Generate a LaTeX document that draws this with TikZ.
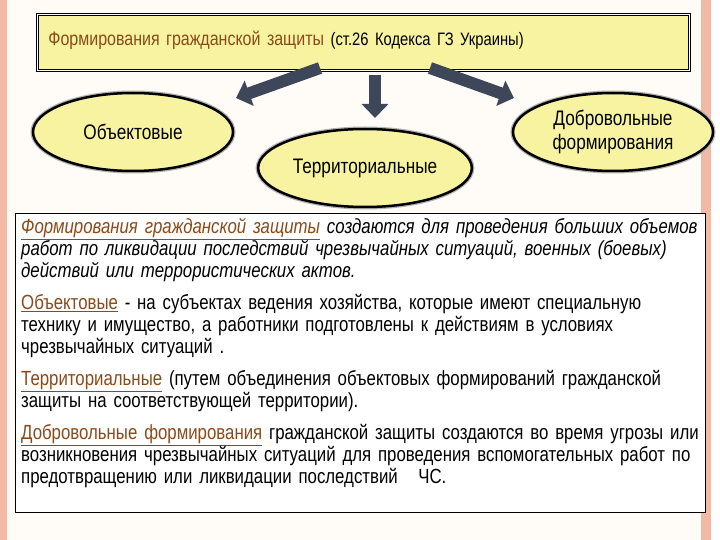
\documentclass[tikz,border=0pt]{standalone}
\usepackage{fontspec}
\setmainfont{Liberation Sans}[FakeStretch=0.82]
\usetikzlibrary{shapes.geometric,arrows.meta}
\definecolor{brn}{HTML}{8B4A1A}
\definecolor{ylw}{HTML}{F7F3A0}
\definecolor{arr}{HTML}{3E4759}
\definecolor{sal}{HTML}{F2B9A5}
\tikzset{
  ell/.style={ellipse,draw=black,line width=2.5pt,fill=ylw,minimum width=200pt,minimum height=78pt,align=center,font=\fontsize{21}{24}\selectfont,
    preaction={draw=gray!60,line width=5pt}},
  fat/.style={-{Triangle[length=14pt,width=26pt]},line width=12pt,draw=arr}
}
\newcommand{\bu}[1]{\textcolor{brn}{\underline{#1}}}
\begin{document}
\begin{tikzpicture}[x=1pt,y=-1pt]
\useasboundingbox (0,0) rectangle (720,540);
\fill[white!97!orange] (0,0) rectangle (720,540);
\fill[sal] (0,0) rectangle (7,540);
\fill[sal] (701,0) rectangle (711,540);
\fill[white] (711,0) rectangle (720,540);
\node[draw=black,double,double distance=1.5pt,line width=0.8pt,fill=ylw,minimum width=652pt,minimum height=56pt,anchor=north west,text width=630pt,font=\fontsize{19.5}{23}\selectfont] (title) at (37,14)
 {\raisebox{8pt}{\textcolor{brn}{Формирования гражданской защиты} {\fontsize{18}{22}\selectfont(ст.26 Кодекса ГЗ Украины)}}};
\node[ell] (obj) at (133,132) {Объектовые};
\node[ell] (ter) at (365,168) {Территориальные};
\node[ell] (dob) at (613,132) {Добровольные\\формирования};
\coordinate (a1) at (320,68); \coordinate (a2) at (375,75); \coordinate (a3) at (430,68);
\draw[fat] (a1) -- (236,98);
\draw[fat] (a2) -- (375,118);
\draw[fat] (a3) -- (514,98);
\node[draw=black,line width=0.8pt,fill=white,minimum width=690pt,minimum height=299pt,anchor=north west] (box) at (15,213) {};
\node[anchor=north west,text width=686pt,align=left,inner sep=0pt,font=\fontsize{20.5}{22}\selectfont] (txt) at (21,218) {%
\textit{\bu{Формирования гражданской защиты} создаются для проведения больших объемов работ по ликвидации последствий чрезвычайных ситуаций, военных (боевых) действий или террористических актов.}\par\vspace{10pt}
\bu{Объектовые} - на субъектах ведения хозяйства, которые имеют специальную технику и имущество, а работники подготовлены к действиям в условиях чрезвычайных ситуаций .\par\vspace{10pt}
\bu{Территориальные} (путем объединения объектовых формирований гражданской защиты на соответствующей территории).\par\vspace{10pt}
\bu{Добровольные формирования} гражданской защиты создаются во время угрозы или возникновения чрезвычайных ситуаций для проведения вспомогательных работ по предотвращению или ликвидации последствий \ \ ЧС.};
\end{tikzpicture}
\end{document}
